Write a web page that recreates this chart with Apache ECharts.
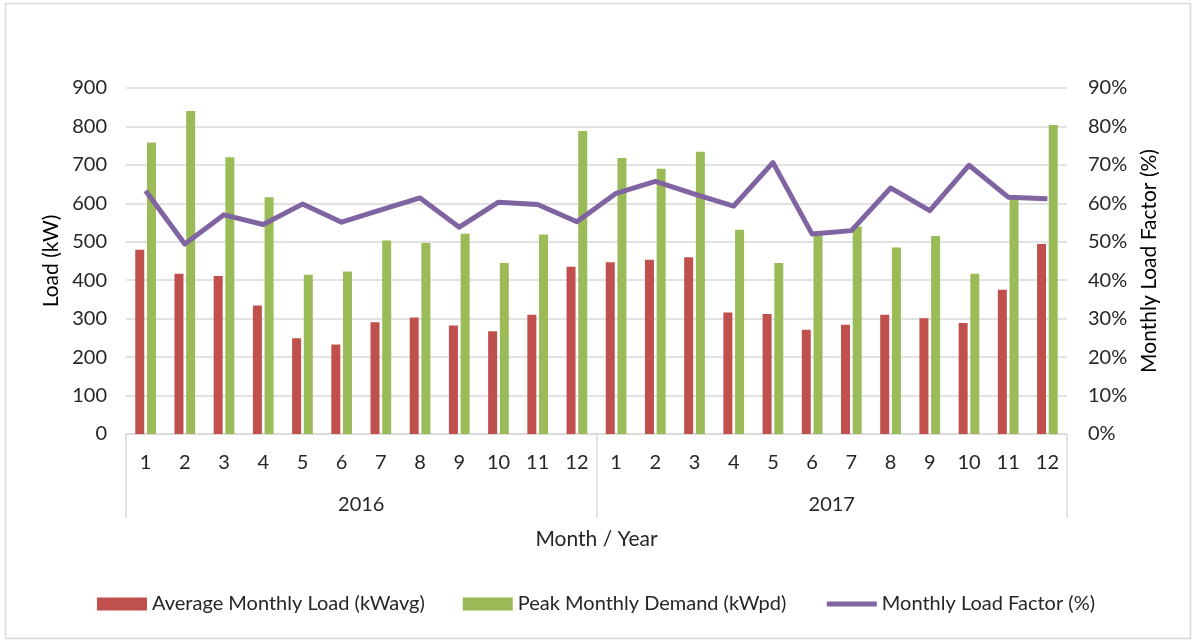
<!DOCTYPE html>
<html>
<head>
<meta charset="utf-8">
<script src="https://cdn.jsdelivr.net/npm/echarts@6/dist/echarts.min.js"></script>
<style>
  html, body { margin: 0; padding: 0; background: #fff; }
  #chart { width: 1192px; height: 640px; }
</style>
</head>
<body>
<div id="chart"></div>
<script>
// month labels for both years
let months = ['1','2','3','4','5','6','7','8','9','10','11','12',
              '1','2','3','4','5','6','7','8','9','10','11','12'];
let years = ['2016', '2017'];

// kW
let avgLoad = [479, 417, 411, 334, 249, 233, 291, 303, 282, 267, 310, 435,
               447, 453, 460, 316, 312, 271, 284, 310, 301, 289, 375, 494];
let peakDemand = [758, 840, 720, 616, 414, 423, 503, 497, 521, 445, 519, 788,
                  718, 690, 734, 531, 445, 519, 540, 485, 515, 417, 611, 804];
// %
let loadFactor = [63.3, 49.4, 57.0, 54.5, 59.8, 55.1, 58.3, 61.4, 53.8, 60.3, 59.7, 55.2,
                  62.6, 65.7, 62.4, 59.3, 70.6, 52.0, 52.9, 64.0, 58.1, 69.9, 61.6, 61.2];

let font = 'Lato, "Open Sans", sans-serif';
let textColor = '#262626';

let chart = echarts.init(document.getElementById('chart'));
let options = {
    animation: false,
    textStyle: { fontFamily: font },
    graphic: [
        {
            type: 'rect',
            shape: { x: 5.5, y: 3.5, width: 1185, height: 635 },
            style: { fill: 'none', stroke: '#d9d9d9', lineWidth: 1.5 },
            silent: true
        }
    ],
    grid: { left: 126, right: 125, top: 88, bottom: 206, containLabel: false },
    legend: {
        bottom: 21,
        left: 'center',
        itemGap: 38,
        itemWidth: 50,
        itemHeight: 13,
        textStyle: { fontSize: 20, color: textColor, fontFamily: font },
        data: [
            { name: 'Average Monthly Load (kWavg)', icon: 'rect' },
            { name: 'Peak Monthly Demand (kWpd)', icon: 'rect' },
            { name: 'Monthly Load Factor (%)', itemStyle: { opacity: 0 }, lineStyle: { width: 5, color: '#8064a2' } }
        ]
    },
    xAxis: [
        {
            type: 'category',
            data: months,
            position: 'bottom',
            axisLine: { lineStyle: { color: '#d9d9d9', width: 1.5 } },
            axisTick: { show: false },
            axisLabel: { interval: 0, margin: 19, fontSize: 20, color: textColor },
            name: 'Month / Year',
            nameLocation: 'middle',
            nameGap: 95,
            nameTextStyle: { fontSize: 21, color: textColor }
        },
        {
            type: 'category',
            data: years,
            position: 'bottom',
            axisLine: { show: false },
            axisTick: { show: true, length: 84, interval: 0, lineStyle: { color: '#d9d9d9', width: 1.5 } },
            axisLabel: { margin: 61, fontSize: 20, color: textColor },
            splitLine: { show: false }
        }
    ],
    yAxis: [
        {
            type: 'value',
            min: 0,
            max: 900,
            interval: 100,
            axisLine: { show: false },
            axisTick: { show: false },
            axisLabel: { margin: 19, fontSize: 20, color: textColor },
            splitLine: { lineStyle: { color: '#d9d9d9', width: 1.5 } },
            name: 'Load (kW)',
            nameLocation: 'middle',
            nameGap: 63,
            nameTextStyle: { fontSize: 21, color: '#000' }
        },
        {
            type: 'value',
            min: 0,
            max: 90,
            interval: 10,
            axisLine: { show: false },
            axisTick: { show: false },
            axisLabel: { margin: 21, fontSize: 20, color: textColor, formatter: '{value}%' },
            splitLine: { show: false },
            name: 'Monthly Load Factor (%)',
            nameLocation: 'middle',
            nameGap: 72,
            nameRotate: 90,
            nameTextStyle: { fontSize: 21, color: '#000' }
        }
    ],
    series: [
        {
            name: 'Average Monthly Load (kWavg)',
            type: 'bar',
            data: avgLoad,
            barWidth: 9,
            barGap: '30%',
            itemStyle: { color: '#c0504d' }
        },
        {
            name: 'Peak Monthly Demand (kWpd)',
            type: 'bar',
            data: peakDemand,
            barWidth: 9,
            barGap: '30%',
            itemStyle: { color: '#9bbb59' }
        },
        {
            name: 'Monthly Load Factor (%)',
            type: 'line',
            yAxisIndex: 1,
            data: loadFactor,
            symbol: 'none',
            lineStyle: { color: '#8064a2', width: 5, join: 'round' },
            itemStyle: { color: '#8064a2' },
            z: 5
        }
    ]
};
chart.setOption(options);
</script>
</body>
</html>
